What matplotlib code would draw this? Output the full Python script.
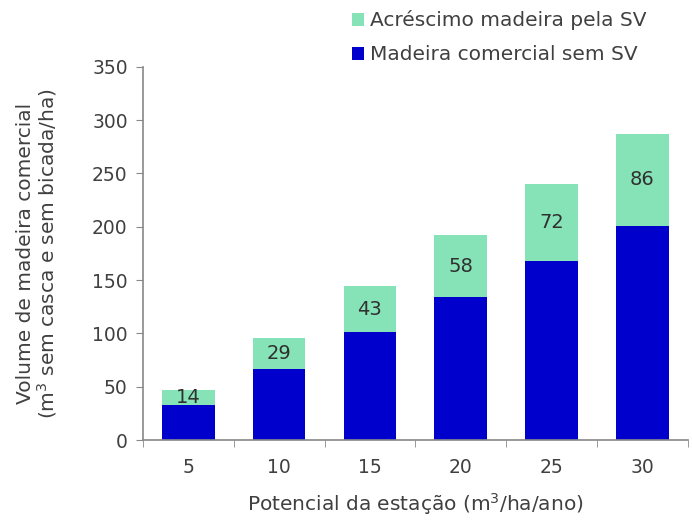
import matplotlib.pyplot as plt
import numpy as np

plt.rcParams['font.family'] = ['DejaVu Sans']

categories = ["5", "10", "15", "20", "25", "30"]
madeira_sem_sv = [33, 67, 101, 134, 168, 201]
acrescimo_sv = [14, 29, 43, 58, 72, 86]

blue = "#0000CC"
green = "#86E3B8"
grey = "#888888"
txt = "#404040"

fig = plt.figure(figsize=(6.92, 5.22), dpi=100)
ax = fig.add_axes([0.2066, 0.157, 0.787, 0.715])

x = np.arange(len(categories))
b1 = ax.bar(x, madeira_sem_sv, width=0.58, color=blue, label="Madeira comercial sem SV")
b2 = ax.bar(x, acrescimo_sv, width=0.58, bottom=madeira_sem_sv, color=green,
            label="Acréscimo madeira pela SV")

for xi, base, v in zip(x, madeira_sem_sv, acrescimo_sv):
    ax.text(xi, base + v / 2, str(v), ha="center", va="center", fontsize=14, color="#303030")

ax.set_xlim(-0.5, len(categories) - 0.5)
ax.set_ylim(0, 350)
ax.set_yticks(range(0, 351, 50))
ax.set_xticks(x)
ax.set_xticklabels(categories)
ax.set_xticks(np.arange(-0.5, len(categories), 1.0), minor=True)
ax.tick_params(axis="x", which="major", length=0, pad=13, labelsize=13.5, labelcolor=txt)
ax.tick_params(axis="x", which="minor", length=5, color=grey, direction="out")
ax.tick_params(axis="y", length=5, color=grey, labelsize=13.5, labelcolor=txt, pad=6)

for s in ["top", "right"]:
    ax.spines[s].set_visible(False)
for s in ["left", "bottom"]:
    ax.spines[s].set_color(grey)
    ax.spines[s].set_linewidth(1.2)

ax.set_xlabel("Potencial da estação (m$^3$/ha/ano)", fontsize=14.5, color=txt, labelpad=10)
ax.set_ylabel("Volume de madeira comercial\n(m$^3$ sem casca e sem bicada/ha)", fontsize=14.5,
              color=txt, labelpad=24, linespacing=1.0)

handles = [b2, b1]
fig.legend(handles, [h.get_label() for h in handles], loc="upper left",
           bbox_to_anchor=(0.483, 1.015), frameon=False, fontsize=14.5, handlelength=0.6,
           handleheight=0.6, handletextpad=0.3, labelspacing=0.75, labelcolor=txt)

fig.savefig("out.png", dpi=100)
